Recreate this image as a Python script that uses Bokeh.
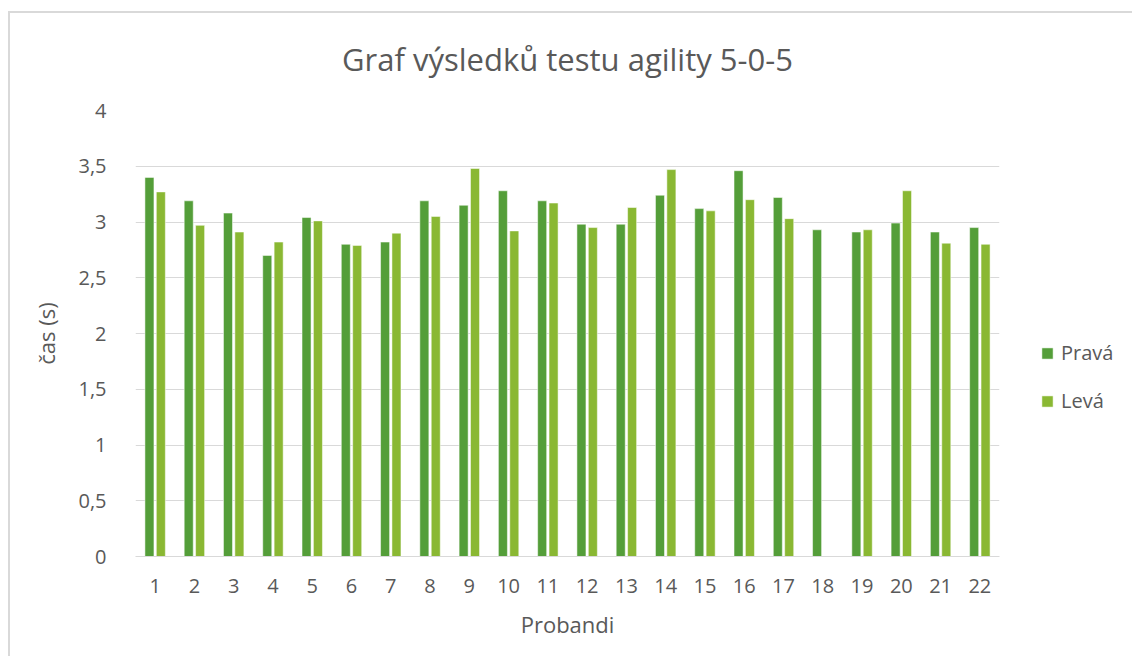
from bokeh.plotting import figure
from bokeh.models import FactorRange, Range1d, Legend, LegendItem, SingleIntervalTicker, CustomJSTickFormatter
from bokeh.transform import dodge
from bokeh.embed import file_html
from bokeh.resources import INLINE

categories = [str(i) for i in range(1, 23)]
prava = [3.40, 3.19, 3.08, 2.70, 3.04, 2.80, 2.82, 3.19, 3.15, 3.28, 3.19,
         2.98, 2.98, 3.24, 3.12, 3.46, 3.22, 2.93, 2.91, 2.99, 2.91, 2.95]
leva = [3.27, 2.97, 2.91, 2.82, 3.01, 2.79, 2.90, 3.05, 3.48, 2.92, 3.17,
        2.95, 3.13, 3.47, 3.10, 3.20, 3.03, None, 2.93, 3.28, 2.81, 2.80]
series_names = ["Pravá", "Levá"]
colors = ["#549E39", "#8AB833"]

TEXT = "#595959"
FONT = "Open Sans"

p = figure(x_range=FactorRange(*categories), y_range=Range1d(0, 4),
           frame_width=864, frame_height=446,
           min_border_left=127, min_border_right=124,
           min_border_top=108, min_border_bottom=100,
           output_backend="svg", toolbar_location=None,
           title="Graf výsledků testu agility 5-0-5")
p.border_fill_color = None
p.background_fill_color = "white"
p.styles = {
    "margin-left": "8px", "margin-top": "2px",
    "background": ("linear-gradient(#d9d9d9,#d9d9d9) 0 9px / 100% 2px no-repeat, "
                   "linear-gradient(#d9d9d9,#d9d9d9) 0 9px / 2px 100% no-repeat, #ffffff"),
}

p.title.align = "center"
p.title.text_font = FONT
p.title.text_font_size = "31px"
p.title.text_font_style = "normal"
p.title.text_color = TEXT
p.title.standoff = 62

src = dict(cat=categories, prava=prava, leva=[v if v is not None else float("nan") for v in leva])
r1 = p.vbar(x=dodge("cat", -0.145, range=p.x_range), top="prava", width=0.23, source=src,
            fill_color=colors[0], line_color="white", line_alpha=0.5, line_width=1)
r2 = p.vbar(x=dodge("cat", 0.145, range=p.x_range), top="leva", width=0.23, source=src,
            fill_color=colors[1], line_color="white", line_alpha=0.5, line_width=1)

legend = Legend(items=[LegendItem(label=series_names[0], renderers=[r1]),
                       LegendItem(label=series_names[1], renderers=[r2])],
                location=(41, 142), orientation="vertical")
legend.border_line_color = None
legend.background_fill_alpha = 0
legend.padding = 0
legend.margin = 0
legend.spacing = 21
legend.glyph_width = 14
legend.glyph_height = 14
legend.label_height = 22
legend.label_standoff = 7
legend.label_text_font = FONT
legend.label_text_font_size = "20px"
legend.label_text_color = TEXT
p.add_layout(legend, "right")

p.xgrid.grid_line_color = None
p.ygrid.grid_line_color = "#d9d9d9"
p.ygrid.grid_line_width = 1
p.outline_line_color = None

p.yaxis.ticker = SingleIntervalTicker(interval=0.5)
p.yaxis.formatter = CustomJSTickFormatter(code="return tick.toString().replace('.', ',');")
p.yaxis.axis_line_color = None
p.yaxis.major_tick_line_color = None
p.yaxis.minor_tick_line_color = None
p.yaxis.major_label_standoff = 23
p.yaxis.axis_label = "čas (s)"
p.yaxis.axis_label_standoff = 14

p.xaxis.axis_line_color = "#d9d9d9"
p.xaxis.axis_line_width = 1
p.xaxis.major_tick_line_color = None
p.xaxis.minor_tick_line_color = None
p.xaxis.major_label_standoff = 16
p.xaxis.axis_label = "Probandi"
p.xaxis.axis_label_standoff = 13

for ax in (p.xaxis, p.yaxis):
    ax.major_label_text_font = FONT
    ax.major_label_text_font_size = "20px"
    ax.major_label_text_color = TEXT
    ax.axis_label_text_font = FONT
    ax.axis_label_text_font_size = "22px"
    ax.axis_label_text_font_style = "normal"
    ax.axis_label_text_color = TEXT

open("out.html", "w").write(file_html(p, INLINE))
